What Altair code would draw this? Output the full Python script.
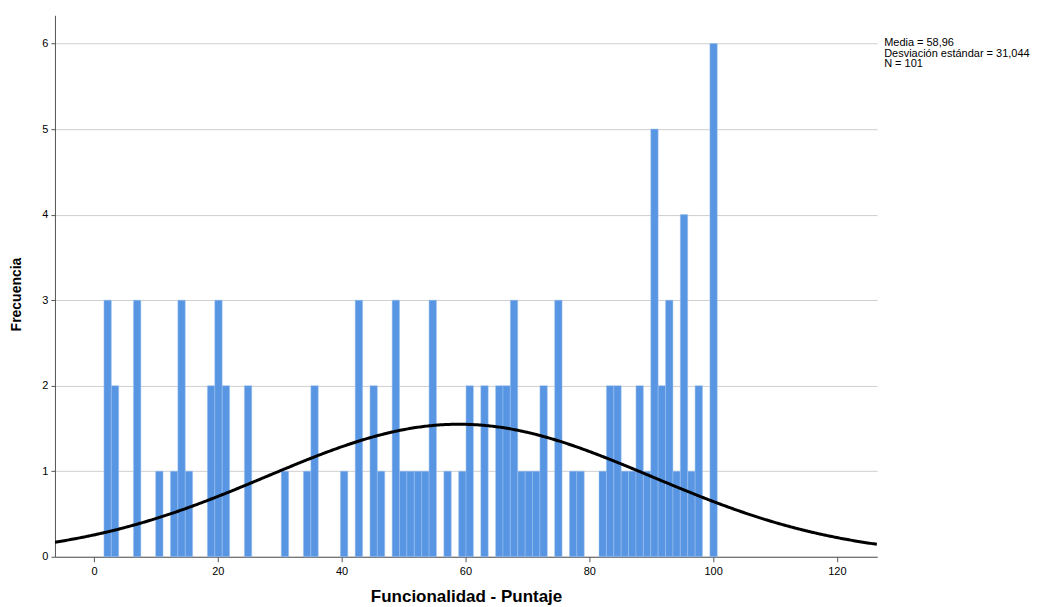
import altair as alt
import pandas as pd

# Bin centers (Funcionalidad - Puntaje) and frequencies
bin_centers = [2.21, 3.40, 6.98, 10.56, 12.95, 14.15, 15.34, 18.92, 20.11, 21.31,
               24.89, 30.85, 34.43, 35.63, 40.40, 42.79, 45.18, 46.37, 48.76, 49.95,
               51.14, 52.34, 53.53, 54.72, 57.11, 59.50, 60.69, 63.08, 65.47, 66.66,
               67.85, 69.05, 70.24, 71.43, 72.63, 75.01, 77.40, 78.59, 82.17, 83.37,
               84.56, 85.75, 86.95, 88.14, 89.34, 90.53, 91.72, 92.92, 94.11, 95.30,
               96.50, 97.69, 100.08]
counts = [3, 2, 3, 1, 1, 3, 1, 2, 3, 2,
          2, 1, 1, 2, 1, 3, 2, 1, 3, 1,
          1, 1, 1, 3, 1, 1, 2, 2, 2, 2,
          3, 1, 1, 1, 2, 3, 1, 1, 1, 2,
          2, 1, 1, 2, 1, 5, 2, 3, 1, 4,
          1, 2, 6]
bin_width = 1.1935

mean_val = 58.96
sd_val = 31.044
n_val = 101
stats_lines = ["Media = 58,96", "Desviación estándar = 31,044", "N = 101"]

x_domain = [-6.3, 126.5]
y_domain = [0, 6.33]
x_ticks = [0, 20, 40, 60, 80, 100, 120]
y_ticks = [0, 1, 2, 3, 4, 5, 6]

df = pd.DataFrame({"c": bin_centers, "n": counts})

FONT = "Liberation Sans"

xscale = alt.Scale(domain=x_domain, nice=False, zero=False)
yscale = alt.Scale(domain=y_domain, nice=False, zero=True)

bars = alt.Chart(df).transform_calculate(
    x0=f"datum.c - {bin_width}/2",
    x1=f"datum.c + {bin_width}/2",
).mark_rect(color="#5896E3", stroke="#9fc2ef", strokeWidth=0.5).encode(
    x=alt.X("x0:Q", scale=xscale,
            axis=alt.Axis(values=x_ticks, title="Funcionalidad - Puntaje", grid=False,
                          format="d",
                          labelFont=FONT, labelFontSize=11, labelColor="#000000",
                          titleFont=FONT, titleFontSize=17, titleFontWeight="bold",
                          titleColor="#000000", titlePadding=12,
                          domainColor="#555555", tickColor="#555555", tickSize=5,
                          labelPadding=4)),
    x2="x1:Q",
    y=alt.Y("n:Q", scale=yscale,
            axis=alt.Axis(values=y_ticks, title="Frecuencia", grid=True,
                          format="d", gridColor="#cfcfcf", gridWidth=1,
                          labelFont=FONT, labelFontSize=11, labelColor="#000000",
                          titleFont=FONT, titleFontSize=14, titleFontWeight="bold",
                          titleColor="#000000", titlePadding=18, titleY=279,
                          domainColor="#555555", tickColor="#555555", tickSize=4,
                          labelPadding=3)),
    y2=alt.datum(0),
)

curve = alt.Chart(alt.sequence(-6.3, 126.6, 0.25, as_="x")).transform_calculate(
    y=f"{n_val}*{bin_width}*exp(-0.5*pow((datum.x-{mean_val})/{sd_val},2))/({sd_val}*sqrt(2*PI))"
).mark_line(color="#000000", strokeWidth=3, clip=True).encode(
    x=alt.X("x:Q", scale=xscale),
    y=alt.Y("y:Q", scale=yscale),
)

stats_df = pd.DataFrame({"t": ["\n".join(stats_lines)]})
stats = alt.Chart(stats_df).mark_text(
    align="left", baseline="top", font=FONT, fontSize=11, color="#000000",
    lineBreak="\n", lineHeight=10.5
).encode(
    x=alt.value(830),
    y=alt.value(22),
    text="t:N",
)

chart = alt.layer(bars, curve, stats).properties(
    width=823, height=542,
    background="#ffffff",
    autosize=alt.AutoSizeParams(type="none"),
    padding={"left": 47, "top": 7, "right": 160, "bottom": 50},
).configure_view(strokeWidth=0, stroke="transparent")

chart.save("out.html", embed_options={"renderer": "svg", "actions": False})
